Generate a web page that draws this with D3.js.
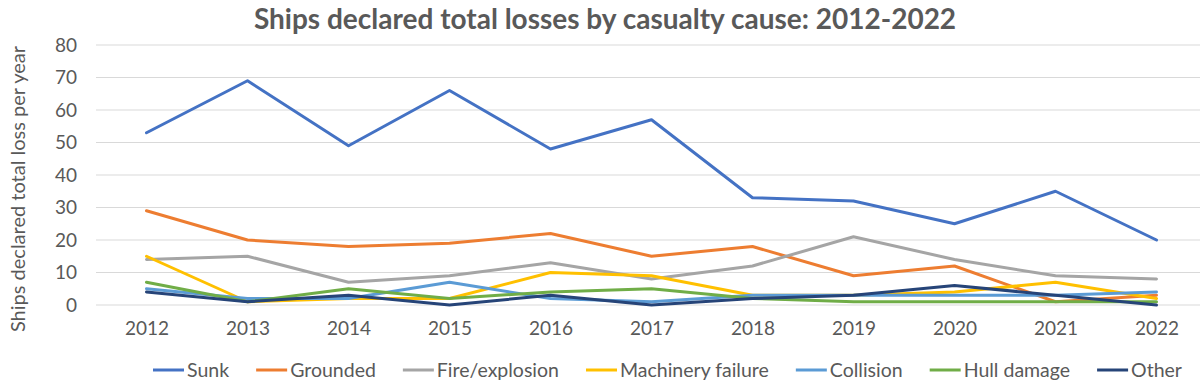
<!DOCTYPE html>
<html><head><meta charset="utf-8">
<script src="https://cdn.jsdelivr.net/npm/d3@7"></script>
<style>body{margin:0;background:#fff}svg{display:block}text{font-family:Lato,"Open Sans",sans-serif}</style>
</head><body><svg id="c" width="1200" height="381"></svg>
<script>
const years = ["2012","2013","2014","2015","2016","2017","2018","2019","2020","2021","2022"];
const seriesNames = ["Sunk","Grounded","Fire/explosion","Machinery failure","Collision","Hull damage","Other"];
const sunk = [53,69,49,66,48,57,33,32,25,35,20];
const grounded = [29,20,18,19,22,15,18,9,12,1,3];
const fireExplosion = [14,15,7,9,13,8,12,21,14,9,8];
const machineryFailure = [15,1,2,2,10,9,3,3,4,7,2];
const collision = [5,2,2,7,2,1,3,3,3,3,4];
const hullDamage = [7,1,5,2,4,5,2,1,1,1,1];
const other = [4,1,3,0,3,0,2,3,6,3,0];
const yTicks = [0,10,20,30,40,50,60,70,80];
const colors = ["#4472C4","#ED7D31","#A5A5A5","#FFC000","#5B9BD5","#70AD47","#264478"];
const allValues = [sunk,grounded,fireExplosion,machineryFailure,collision,hullDamage,other];
const title = "Ships declared total losses by casualty cause: 2012-2022";
const yTitle = "Ships declared total loss per year";

const svg = d3.select("#c");
const x = d3.scalePoint().domain(years).range([96,1207]).padding(0.5);
const y = d3.scaleLinear().domain([0,80]).range([305,45]);

// gridlines
svg.append("g").selectAll("line").data(yTicks).join("line")
  .attr("x1",96).attr("x2",1207).attr("y1",d=>y(d)).attr("y2",d=>y(d))
  .attr("stroke","#D9D9D9").attr("stroke-width",1);

// y axis labels
const yAx = svg.append("g").attr("transform","translate(77,0)")
  .call(d3.axisLeft(y).tickValues(yTicks).tickSize(0).tickPadding(0));
yAx.select(".domain").remove();
yAx.selectAll("text").attr("font-size",19).attr("fill","#595959").attr("font-family","Lato");

// x axis labels
const xAx = svg.append("g").attr("transform","translate(0,318)")
  .call(d3.axisBottom(x).tickSize(0).tickPadding(0));
xAx.select(".domain").remove();
xAx.selectAll("text").attr("font-size",19).attr("fill","#595959").attr("font-family","Lato").attr("dy","0.9em");

// lines
const line = d3.line().x((d,i)=>x(years[i])).y(d=>y(d));
svg.append("g").selectAll("path").data(allValues).join("path")
  .attr("d",d=>line(d)).attr("fill","none")
  .attr("stroke",(d,i)=>colors[i]).attr("stroke-width",3).attr("stroke-linejoin","round").attr("stroke-linecap","round");

// title
svg.append("text").attr("x",605).attr("y",29).attr("text-anchor","middle")
  .attr("font-size",28).attr("font-weight","bold").attr("fill","#595959").text(title);

// y title
svg.append("text").attr("transform","translate(25,189) rotate(-90)").attr("text-anchor","middle")
  .attr("font-size",20).attr("fill","#595959").text(yTitle);

// legend
const lg = svg.append("g");
const items = lg.selectAll("g").data(seriesNames).join("g");
items.append("line").attr("x1",0).attr("x2",31).attr("y1",0).attr("y2",0)
  .attr("stroke",(d,i)=>colors[i]).attr("stroke-width",3);
items.append("text").attr("x",34).attr("y",0).attr("dy","0.35em")
  .attr("font-size",19.5).attr("fill","#595959").text(d=>d);
const gap = 27;
const widths = [];
items.each(function(){ widths.push(this.getBBox().width); });
let start = 153;
items.attr("transform",(d,i)=>{ const t = `translate(${start},370)`; start += widths[i]+gap; return t; });
</script></body></html>
